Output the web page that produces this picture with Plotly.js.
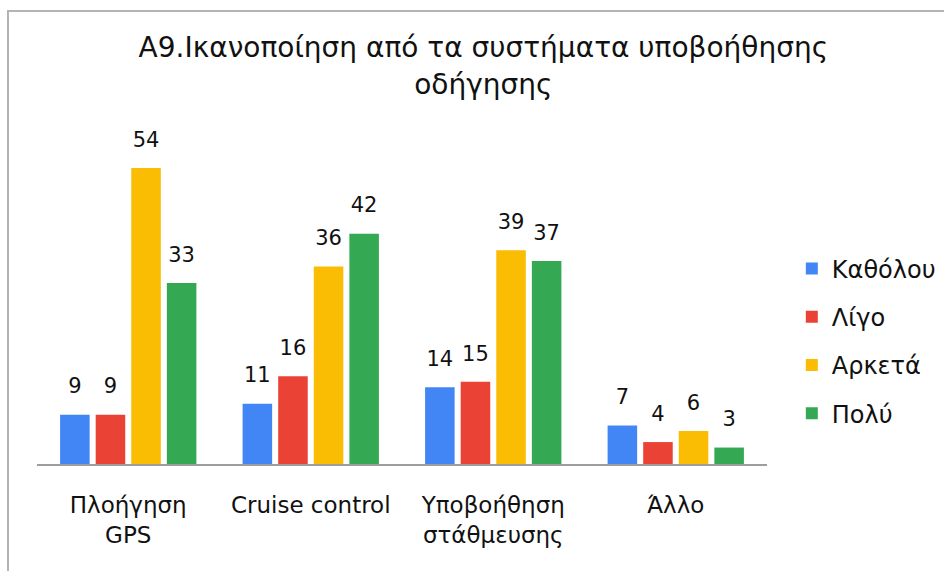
<!DOCTYPE html>
<html>
<head>
<meta charset="utf-8">
<script src="https://cdn.plot.ly/plotly-3.0.1.min.js"></script>
<style>
html,body{margin:0;padding:0;background:#fff;}
#wrap{position:relative;width:944px;height:571px;}
#chart{width:944px;height:571px;}
#frame{position:absolute;left:7px;top:10px;right:0;bottom:0;border-top:2px solid #b4b4b4;border-left:2px solid #b4b4b4;pointer-events:none;}
</style>
</head>
<body>
<div id="wrap"><div id="chart"></div><div id="frame"></div></div>
<script>
const categories = ["Πλοήγηση<br>GPS", "Cruise control", "Υποβοήθηση<br>στάθμευσης", "Άλλο"];
const seriesNames = ["Καθόλου", "Λίγο", "Αρκετά", "Πολύ"];
const katholou = [9, 11, 14, 7];
const ligo = [9, 16, 15, 4];
const arketa = [54, 36, 39, 6];
const poly = [33, 42, 37, 3];
const colors = ["#4285F4", "#EA4335", "#FBBC04", "#34A853"];
const seriesValues = [katholou, ligo, arketa, poly];

const FONT = "DejaVu Sans, Liberation Sans, Arial, sans-serif";
const traces = [];
seriesValues.forEach((vals, i) => {
  traces.push({
    type: "bar", name: seriesNames[i], x: categories, y: vals,
    marker: {color: colors[i]}, legendgroup: "g" + i, hoverinfo: "y",
    offsetgroup: "s" + i, alignmentgroup: "a"
  });
});
seriesValues.forEach((vals, i) => {
  traces.push({
    type: "scatter", mode: "markers+text", x: categories, y: vals,
    marker: {size: 24, color: "rgba(0,0,0,0)"},
    text: vals.map(String), textposition: "top center",
    textfont: {family: FONT, size: 21, color: "#111"},
    offsetgroup: "s" + i, alignmentgroup: "a", showlegend: false, hoverinfo: "skip", cliponaxis: false
  });
});

const layout = {
  width: 944, height: 571,
  paper_bgcolor: "#fff", plot_bgcolor: "#fff",
  margin: {l: 37, r: 177, t: 135, b: 107, autoexpand: false},
  barmode: "group", bargap: 0.22, bargroupgap: 0.17,
  scattermode: "group", scattergap: 0.22,
  font: {family: FONT, size: 22, color: "#111"},
  title: {text: "A9.Ικανοποίηση από τα συστήματα υποβοήθησης<br>οδήγησης",
          font: {family: FONT, size: 28, color: "#111"},
          x: 0.512, xanchor: "center", y: 0.90, yanchor: "top"},
  xaxis: {showgrid: false, showline: true, linecolor: "#9e9e9e", linewidth: 1.5,
          ticks: "", ticklabelstandoff: 20, tickfont: {family: FONT, size: 23, color: "#111"},
          fixedrange: true},
  yaxis: {range: [0, 60], visible: false, showgrid: false, zeroline: false, fixedrange: true},
  legend: {x: 1.034, xanchor: "left", y: 0.374, yanchor: "middle",
           font: {family: FONT, size: 24, color: "#111"}, tracegroupgap: 14},
  showlegend: true
};
Plotly.newPlot("chart", traces, layout, {displayModeBar: false, staticPlot: true});
</script>
</body>
</html>
